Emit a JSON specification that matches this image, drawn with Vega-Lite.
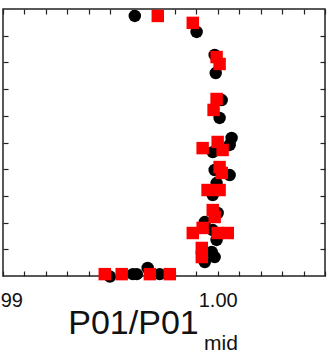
{
  "$schema": "https://vega.github.io/schema/vega-lite/v6.json",
  "width": 322,
  "height": 267,
  "autosize": {"type": "none"},
  "padding": {"left": 3, "top": 9, "right": 3, "bottom": 80},
  "background": "white",
  "title": {
    "text": "mid",
    "orient": "bottom",
    "anchor": "start",
    "frame": "group",
    "dx": 201,
    "offset": -7,
    "font": "Liberation Sans",
    "fontSize": 21,
    "fontWeight": "normal",
    "color": "#111"
  },
  "config": {
    "view": {"stroke": "#222", "strokeWidth": 1.5},
    "axis": {
      "domain": false,
      "grid": false,
      "tickColor": "#222",
      "tickWidth": 1.2,
      "tickSize": -5,
      "labelFont": "Liberation Sans",
      "labelFontSize": 20,
      "labelColor": "#111",
      "titleFont": "Liberation Sans",
      "titleColor": "#111"
    }
  },
  "data": {
    "values": [
      {"series": "A", "ratio": 0.99614, "level": 9.74},
      {"series": "A", "ratio": 0.99902, "level": 9.14},
      {"series": "A", "ratio": 0.99986, "level": 8.28},
      {"series": "A", "ratio": 0.99991, "level": 7.6},
      {"series": "A", "ratio": 1.00019, "level": 6.59},
      {"series": "A", "ratio": 1.00009, "level": 5.92},
      {"series": "A", "ratio": 1.00065, "level": 5.17},
      {"series": "A", "ratio": 1.00056, "level": 4.91},
      {"series": "A", "ratio": 0.99977, "level": 4.64},
      {"series": "A", "ratio": 1.00056, "level": 3.78},
      {"series": "A", "ratio": 0.99986, "level": 3.97},
      {"series": "A", "ratio": 0.99995, "level": 3.48},
      {"series": "A", "ratio": 0.99977, "level": 3.03},
      {"series": "A", "ratio": 1.0, "level": 2.36},
      {"series": "A", "ratio": 0.9994, "level": 2.02},
      {"series": "A", "ratio": 0.99977, "level": 1.72},
      {"series": "A", "ratio": 0.99995, "level": 1.35},
      {"series": "A", "ratio": 0.99972, "level": 0.9},
      {"series": "A", "ratio": 0.99986, "level": 0.71},
      {"series": "A", "ratio": 0.9994, "level": 0.52},
      {"series": "A", "ratio": 0.99498, "level": -0.02},
      {"series": "A", "ratio": 0.99605, "level": 0.07},
      {"series": "A", "ratio": 0.99623, "level": 0.07},
      {"series": "A", "ratio": 0.99674, "level": 0.3},
      {"series": "A", "ratio": 0.9973, "level": 0.07},
      {"series": "B", "ratio": 0.99721, "level": 9.74},
      {"series": "B", "ratio": 0.99884, "level": 9.48},
      {"series": "B", "ratio": 0.99995, "level": 8.2},
      {"series": "B", "ratio": 1.00009, "level": 7.94},
      {"series": "B", "ratio": 0.99995, "level": 6.63},
      {"series": "B", "ratio": 0.99981, "level": 6.22},
      {"series": "B", "ratio": 0.9993, "level": 4.79},
      {"series": "B", "ratio": 1.0, "level": 5.02},
      {"series": "B", "ratio": 1.00023, "level": 4.72},
      {"series": "B", "ratio": 1.00009, "level": 4.08},
      {"series": "B", "ratio": 1.00019, "level": 3.86},
      {"series": "B", "ratio": 0.99953, "level": 3.22},
      {"series": "B", "ratio": 1.00009, "level": 3.22},
      {"series": "B", "ratio": 0.99977, "level": 2.47},
      {"series": "B", "ratio": 0.99986, "level": 2.21},
      {"series": "B", "ratio": 0.99884, "level": 1.61},
      {"series": "B", "ratio": 0.9993, "level": 1.8},
      {"series": "B", "ratio": 1.0, "level": 1.61},
      {"series": "B", "ratio": 1.00047, "level": 1.61},
      {"series": "B", "ratio": 0.99926, "level": 1.05},
      {"series": "B", "ratio": 0.99926, "level": 0.71},
      {"series": "B", "ratio": 0.99474, "level": 0.07},
      {"series": "B", "ratio": 0.99553, "level": 0.07},
      {"series": "B", "ratio": 0.99684, "level": 0.07},
      {"series": "B", "ratio": 0.99777, "level": 0.07}
    ]
  },
  "resolve": {"axis": {"x": "independent", "y": "independent"}},
  "layer": [
    {
      "transform": [{"filter": "datum.series === 'A'"}],
      "mark": {"type": "point", "shape": "circle", "filled": true, "color": "#000000", "opacity": 1, "size": 155, "clip": false},
      "encoding": {
        "x": {
          "field": "ratio",
          "type": "quantitative",
          "scale": {"domain": [0.99, 1.005], "nice": false, "zero": false},
          "axis": {
            "orient": "bottom",
            "values": [0.99, 0.991, 0.992, 0.993, 0.994, 0.995, 0.996, 0.997, 0.998, 0.999, 1.0, 1.001, 1.002, 1.003, 1.004, 1.005],
            "labelExpr": "abs(datum.value - 1) < 1e-9 ? '1.00' : (abs(datum.value - 0.99) < 1e-9 ? '0.99' : '')",
            "labelFlush": false,
            "labelOverlap": false,
            "labelPadding": 19,
            "title": "P01/P01",
            "titleFontSize": 34,
            "titleFontWeight": "normal",
            "titleX": 130,
            "titleY": 57,
            "titleAlign": "center",
            "titleBaseline": "alphabetic"
          }
        },
        "y": {
          "field": "level",
          "type": "quantitative",
          "scale": {"domain": [0, 10], "nice": false, "zero": false},
          "axis": {
            "orient": "left",
            "values": [1, 2, 3, 4, 5, 6, 7, 8, 9],
            "labels": false,
            "title": null
          }
        }
      }
    },
    {
      "transform": [{"filter": "datum.series === 'B'"}],
      "mark": {"type": "point", "shape": "square", "filled": true, "color": "#ff0000", "opacity": 1, "size": 155, "clip": false},
      "encoding": {
        "x": {
          "field": "ratio",
          "type": "quantitative",
          "scale": {"domain": [0.99, 1.005], "nice": false, "zero": false},
          "axis": {
            "orient": "top",
            "values": [0.99, 0.991, 0.992, 0.993, 0.994, 0.995, 0.996, 0.997, 0.998, 0.999, 1.0, 1.001, 1.002, 1.003, 1.004, 1.005],
            "labels": false,
            "title": null
          }
        },
        "y": {
          "field": "level",
          "type": "quantitative",
          "scale": {"domain": [0, 10], "nice": false, "zero": false},
          "axis": {
            "orient": "right",
            "values": [1, 2, 3, 4, 5, 6, 7, 8, 9],
            "labels": false,
            "title": null
          }
        }
      }
    }
  ]
}
